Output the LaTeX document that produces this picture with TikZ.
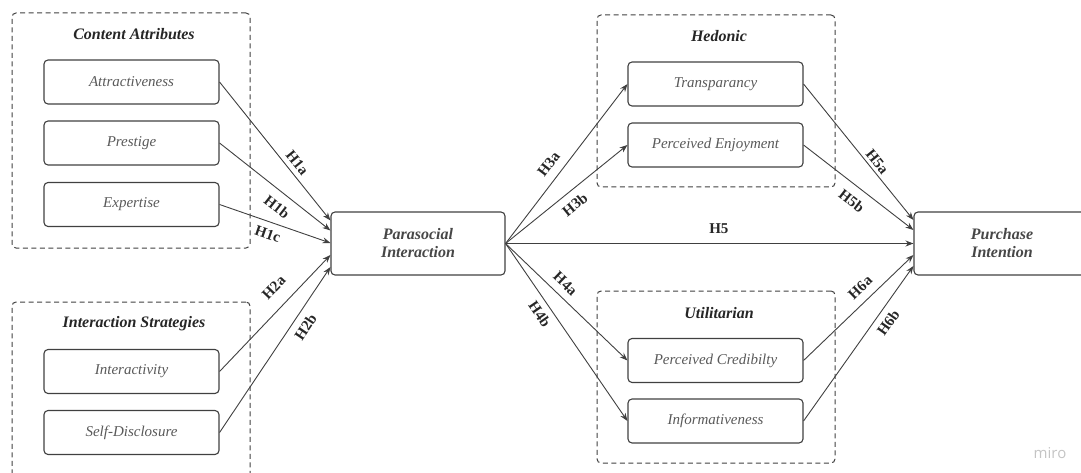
\documentclass[tikz,border=0pt]{standalone}
\usepackage{fontspec}
\setmainfont{Liberation Serif}
\newfontfamily\mirofont{Open Sans}
\usetikzlibrary{arrows.meta}

\definecolor{linegray}{HTML}{404040}
\definecolor{textgray}{HTML}{595959}
\definecolor{titlegray}{HTML}{262626}
\definecolor{mirogray}{HTML}{C4C4C4}

\begin{document}
\begin{tikzpicture}[x=1pt, y=-1pt,
    group/.style={rectangle, draw=linegray, dash pattern=on 5pt off 3.5pt, line width=1pt, rounded corners=4pt, inner sep=0pt},
    grouptitle/.style={font=\fontsize{16}{18}\selectfont\bfseries\itshape, text=titlegray},
    item/.style={rectangle, draw=linegray, line width=1.1pt, rounded corners=4pt, minimum width=175pt, minimum height=44pt, inner sep=0pt, font=\fontsize{15}{17}\selectfont\itshape, text=textgray},
    construct/.style={rectangle, draw=linegray, line width=1.1pt, rounded corners=4pt, minimum width=174pt, minimum height=63pt, inner sep=0pt, align=center, font=\fontsize{16}{18}\selectfont\bfseries\itshape, text=titlegray!85!white},
    arrow/.style={-{Stealth[length=8pt, width=6pt]}, draw=linegray, line width=0.9pt},
    hyp/.style={font=\fontsize{15}{17}\selectfont\bfseries, text=titlegray, inner sep=1pt, sloped}
]
\clip (0,0) rectangle (1081,473);

% Content Attributes
\node[group, minimum width=238pt, minimum height=235pt] (content) at (131,130.5) {};
\node[grouptitle] (contenttitle) at (134,34) {Content Attributes};
\node[item] (attract) at (131.5,82) {Attractiveness};
\node[item] (prestige) at (131.5,143) {Prestige};
\node[item] (expertise) at (131.5,204.5) {Expertise};

% Interaction Strategies
\node[group, minimum width=238pt, minimum height=198pt] (strategies) at (131,401) {};
\node[grouptitle] (strategiestitle) at (134,324) {Interaction Strategies};
\node[item] (interact) at (131.5,371.5) {Interactivity};
\node[item] (selfdis) at (131.5,432.5) {Self-Disclosure};

% Parasocial Interaction
\node[construct] (psi) at (418,243.5) {Parasocial\\Interaction};

% Hedonic
\node[group, minimum width=238pt, minimum height=172pt] (hedonic) at (716,101) {};
\node[grouptitle] (hedonictitle) at (719,36) {Hedonic};
\node[item] (transp) at (715.5,84) {Transparancy};
\node[item] (enjoy) at (715.5,145) {Perceived Enjoyment};

% Utilitarian
\node[group, minimum width=238pt, minimum height=172pt] (utilit) at (716,377) {};
\node[grouptitle] (utilittitle) at (719,313) {Utilitarian};
\node[item] (cred) at (715.5,360.5) {Perceived Credibilty};
\node[item] (inform) at (715.5,421) {Informativeness};

% Purchase Intention
\node[construct, minimum width=176pt] (purchase) at (1002,243.5) {Purchase\\Intention};

% Pfeile links
\draw[arrow] (attract.east) -- ([yshift=23pt]psi.west) node[hyp, pos=.63, above=3.5pt] {H1a};
\draw[arrow] (prestige.east) -- ([yshift=13pt]psi.west) node[hyp, pos=.6, below=8pt] {H1b};
\draw[arrow] (expertise.east) -- ([yshift=0.5pt]psi.west) node[hyp, pos=.47, below=5.5pt] {H1c};
\draw[arrow] (interact.east) -- ([yshift=-11.5pt]psi.west) node[hyp, pos=.61, above=12pt] {H2a};
\draw[arrow] (selfdis.east) -- ([yshift=-23.5pt]psi.west) node[hyp, pos=.68, below=6pt] {H2b};

% Pfeile Mitte
\draw[arrow] (psi.east) -- (transp.west) node[hyp, pos=.445, above=7.5pt] {H3a};
\draw[arrow] (psi.east) -- (enjoy.west) node[hyp, pos=.5, below=6.5pt] {H3b};
\draw[arrow] (psi.east) -- (cred.west) node[hyp, pos=.42, above=6pt] {H4a};
\draw[arrow] (psi.east) -- (inform.west) node[hyp, pos=.36, below=5pt] {H4b};
\draw[arrow] (psi.east) -- (purchase.west) node[hyp, pos=.523, above=8pt] {H5};

% Pfeile rechts
\draw[arrow] (transp.east) -- ([yshift=23.5pt]purchase.west) node[hyp, pos=.61, above=2pt] {H5a};
\draw[arrow] (enjoy.east) -- ([yshift=13.5pt]purchase.west) node[hyp, pos=.52, below=8pt] {H5b};
\draw[arrow] (cred.east) -- ([yshift=-11.5pt]purchase.west) node[hyp, pos=.6, above=7pt] {H6a};
\draw[arrow] (inform.east) -- ([yshift=-22.5pt]purchase.west) node[hyp, pos=.68, below=5.5pt] {H6b};

% Wasserzeichen
\node[font=\mirofont\fontsize{15}{17}\selectfont, text=mirogray] (miro) at (1050,453) {miro};

\end{tikzpicture}
\end{document}
